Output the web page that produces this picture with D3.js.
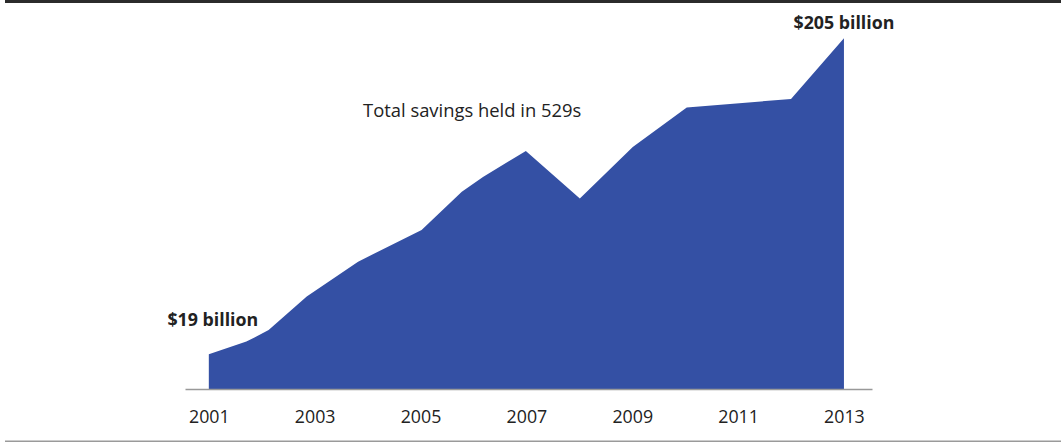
<!DOCTYPE html>
<html>
<head>
<meta charset="utf-8">
<script src="https://cdn.jsdelivr.net/npm/d3@7"></script>
<style>
  html, body { margin: 0; padding: 0; background: #fff; }
  svg { display: block; }
  text { font-family: "Open Sans", "Noto Sans", sans-serif; fill: #222; }
</style>
</head>
<body>
<svg id="chart" width="1061" height="443"></svg>
<script>
// Total assets held in 529 college savings plans, in billions of dollars
const dates  = [2001, 2001.71, 2002.13, 2002.85, 2003.82, 2005.02, 2005.78, 2006.18, 2006.99, 2008.01, 2009.01, 2010.03, 2012.0, 2013.0];
const assets = [19, 26.4, 33.2, 52.9, 73.5, 92.1, 114.7, 123.4, 138.7, 110.6, 141.0, 164.3, 169.3, 205];
const tickYears = [2001, 2003, 2005, 2007, 2009, 2011, 2013];
const title = "Total savings held in 529s";

const svg = d3.select("#chart");
const W = 1061;

const x = d3.scaleLinear().domain([2000.55, 2013.53]).range([185, 872]);
const y = d3.scaleLinear().domain([-1.5, 205]).range([389, 38.3]);

const data = dates.map((d, i) => ({ year: d, value: assets[i] }));

// frame rules
svg.append("rect").attr("x", 5).attr("y", 0).attr("width", W - 5).attr("height", 3).attr("fill", "#2b2b2b");
svg.append("rect").attr("x", 5).attr("y", 440.5).attr("width", W - 5).attr("height", 1.5).attr("fill", "#9a9a9a");

// area
const area = d3.area()
  .x(d => x(d.year))
  .y0(y(-1.5))
  .y1(d => y(d.value));

svg.append("path")
  .datum(data)
  .attr("d", area)
  .attr("fill", "#3450a4");

// x axis
const axis = svg.append("g")
  .attr("transform", `translate(0,${y(-1.5)})`)
  .call(d3.axisBottom(x).tickValues(tickYears).tickFormat(d3.format("d")).tickSize(0).tickPadding(21));
axis.select(".domain").attr("stroke", "#999").attr("stroke-width", 1.5);
axis.selectAll("text").style("font-size", "17.8px").style("font-family", "\"Open Sans\", sans-serif").attr("fill", "#222");

// end labels
const first = data[0], last = data[data.length - 1];
svg.append("text")
  .attr("x", x(first.year) + 4)
  .attr("y", y(first.value) - 28)
  .attr("text-anchor", "middle")
  .style("font-size", "17.8px").style("font-weight", "700")
  .text(`$${first.value} billion`);
svg.append("text")
  .attr("x", x(last.year))
  .attr("y", y(last.value) - 9.5)
  .attr("text-anchor", "middle")
  .style("font-size", "17.8px").style("font-weight", "700")
  .text(`$${last.value} billion`);

// series title
svg.append("text")
  .attr("x", 363)
  .attr("y", 116.5)
  .style("font-size", "18.4px")
  .text(title);
</script>
</body>
</html>
